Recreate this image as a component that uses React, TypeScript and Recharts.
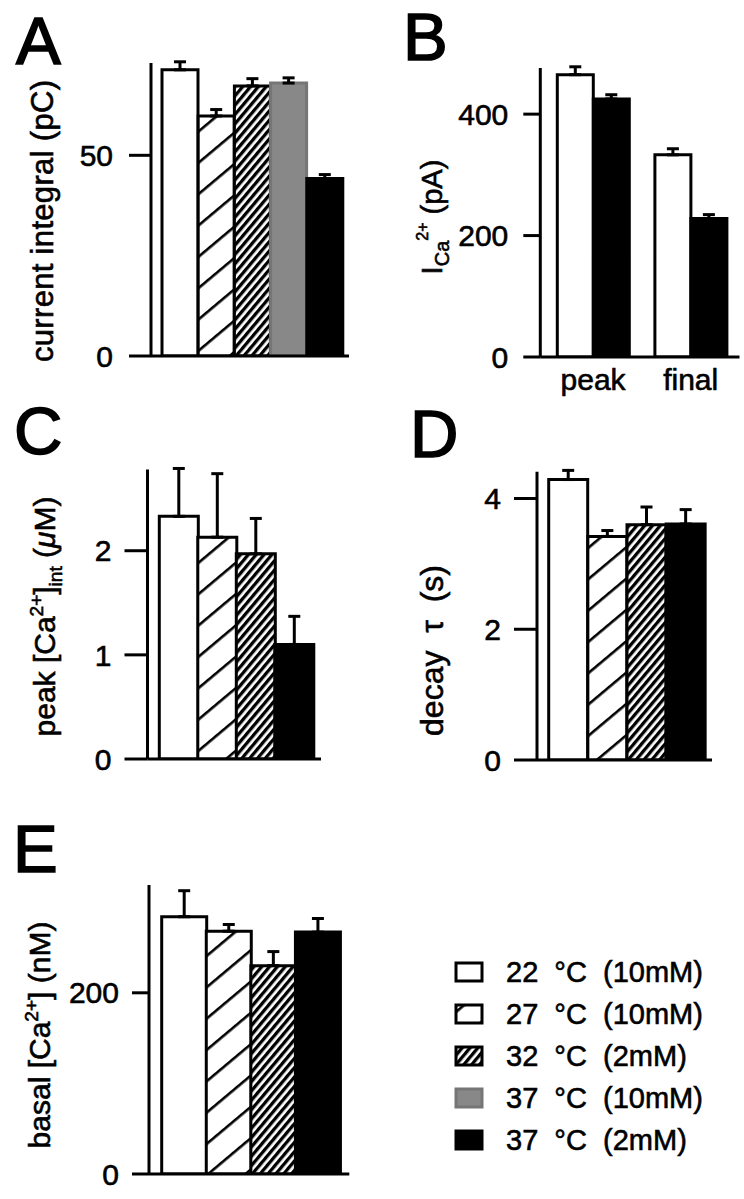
import React from "react";
import { Bar, BarChart, Cell, ErrorBar, Label, XAxis, YAxis } from "recharts";

const FONT = '"Liberation Sans", Arial, Helvetica, sans-serif';

// groups as in the legend
const CONDITIONS = ["22 °C (10mM)", "27 °C (10mM)", "32 °C (2mM)", "37 °C (10mM)", "37 °C (2mM)"];
const FILL_KEYS = ["open", "sparse", "dense", "gray", "solid"];

// A: current integral (pC)
const A_GROUPS = [0, 1, 2, 3, 4];
const A_VALUES = [71.3, 59.8, 67.3, 68.0, 44.2];
const A_ERR = [2.0, 1.6, 1.8, 1.3, 1.0];
const A_TICKS = [0, 50];

// B: I_Ca (pA), peak and final
const B_CATEGORIES = ["peak", "final"];
const B_22 = [465, 333];
const B_22_ERR = [13, 10];
const B_37 = [425, 228];
const B_37_ERR = [7, 6.5];
const B_TICKS = [0, 200, 400];

// C, D, E have no 37 °C (10mM) group
const CDE_GROUPS = [0, 1, 2, 4];
const C_VALUES = [2.33, 2.13, 1.97, 1.1];
const C_ERR = [0.46, 0.61, 0.34, 0.27];
const C_TICKS = [0, 1, 2];

const D_VALUES = [4.29, 3.42, 3.6, 3.61];
const D_ERR = [0.14, 0.09, 0.27, 0.22];
const D_TICKS = [0, 2, 4];

const E_VALUES = [284, 268, 230, 267];
const E_ERR = [28.7, 7.4, 15.5, 15];
const E_TICKS = [0, 200];

const FILLS: Record<string, { fill: string; stroke: string }> = {
  open: { fill: "#ffffff", stroke: "#000" },
  sparse: { fill: "url(#hatchSparse)", stroke: "#000" },
  dense: { fill: "url(#hatchDense)", stroke: "#000" },
  gray: { fill: "#888888", stroke: "#767676" },
  solid: { fill: "#000", stroke: "#000" },
};

// scanned lettering is a bit heavier than plain Arial
const INK = { stroke: "#000", strokeWidth: 0.6 };
const AXIS_LINE = { stroke: "#000", strokeWidth: 3 };
const TICK_STYLE = { fontSize: 30, fill: "#000", fontFamily: FONT, ...INK };

function RotText({
  x,
  y,
  size = 30,
  length,
  children,
}: {
  x: number;
  y: number;
  size?: number;
  length?: number;
  children: React.ReactNode;
}) {
  return (
    <text
      x={x}
      y={y}
      transform={`rotate(-90 ${x} ${y})`}
      textAnchor="middle"
      fontFamily={FONT}
      fontSize={size}
      fill="#000"
      {...INK}
      {...(length ? { textLength: length, lengthAdjust: "spacing" } : {})}
    >
      {children}
    </text>
  );
}

type PanelProps = {
  left: number;
  top: number;
  width: number;
  height: number;
  margin: { top: number; right: number; bottom: number; left: number };
  yWidth: number;
  domain: [number, number];
  ticks: number[];
  tickSize: number;
  tickMargin: number;
  padding: { left: number; right: number };
  groups: number[];
  values: number[];
  errs: number[];
  label: React.ReactNode;
};

function GroupPanel(p: PanelProps) {
  const data = p.groups.map((g, i) => ({
    name: CONDITIONS[g],
    fillKey: FILL_KEYS[g],
    value: p.values[i],
    err: [0, p.errs[i]],
  }));
  return (
    <div style={{ position: "absolute", left: p.left, top: p.top }}>
      <BarChart width={p.width} height={p.height} data={data} margin={p.margin} barCategoryGap={0}>
        <XAxis
          dataKey="name"
          tick={false}
          tickLine={false}
          axisLine={AXIS_LINE}
          height={2}
          padding={p.padding}
        />
        <YAxis
          width={p.yWidth}
          domain={p.domain}
          ticks={p.ticks}
          interval={0}
          allowDataOverflow
          tickSize={p.tickSize}
          tickMargin={p.tickMargin}
          axisLine={AXIS_LINE}
          tickLine={AXIS_LINE}
          tick={TICK_STYLE}
        >
          <Label content={() => p.label} />
        </YAxis>
        <Bar dataKey="value" isAnimationActive={false} strokeWidth={3}>
          {data.map((d) => (
            <Cell key={d.name} fill={FILLS[d.fillKey].fill} stroke={FILLS[d.fillKey].stroke} />
          ))}
          <ErrorBar dataKey="err" width={6} stroke="#000" strokeWidth={3} direction="y" isAnimationActive={false} />
        </Bar>
      </BarChart>
    </div>
  );
}

function PanelB() {
  const data = B_CATEGORIES.map((c, i) => ({
    name: c,
    v22: B_22[i],
    e22: [0, B_22_ERR[i]],
    v37: B_37[i],
    e37: [0, B_37_ERR[i]],
  }));
  return (
    <div style={{ position: "absolute", left: 372, top: 0 }}>
      <BarChart
        width={372}
        height={420}
        data={data}
        margin={{ top: 68, right: 4.5, bottom: 23, left: 0 }}
        barCategoryGap={13}
        barGap={0}
      >
        <XAxis
          dataKey="name"
          tickLine={false}
          tickSize={0}
          tickMargin={12}
          axisLine={AXIS_LINE}
          height={40}
          padding={{ left: 4, right: 0 }}
          tick={TICK_STYLE}
        />
        <YAxis
          width={168.3}
          domain={[0, 476]}
          ticks={B_TICKS}
          interval={0}
          allowDataOverflow
          tickSize={17}
          tickMargin={15}
          axisLine={AXIS_LINE}
          tickLine={AXIS_LINE}
          tick={TICK_STYLE}
        >
          <Label
            content={() => (
              <RotText x={70} y={217} size={29}>
                I
                <tspan fontSize={20} dy={7}>Ca</tspan>
                <tspan fontSize={16} dy={-21}>2+</tspan>
                <tspan dy={14}> (pA)</tspan>
              </RotText>
            )}
          />
        </YAxis>
        <Bar dataKey="v22" fill="#fff" stroke="#000" strokeWidth={3} isAnimationActive={false}>
          <ErrorBar dataKey="e22" width={6} stroke="#000" strokeWidth={3} direction="y" isAnimationActive={false} />
        </Bar>
        <Bar dataKey="v37" fill="#000" stroke="#000" strokeWidth={3} isAnimationActive={false}>
          <ErrorBar dataKey="e37" width={6} stroke="#000" strokeWidth={3} direction="y" isAnimationActive={false} />
        </Bar>
      </BarChart>
    </div>
  );
}

const PANEL_LETTERS = [
  { t: "A", x: 16, y: 64 },
  { t: "B", x: 403, y: 60 },
  { t: "C", x: 14, y: 454 },
  { t: "D", x: 410, y: 457 },
  { t: "E", x: 13, y: 872 },
];

export default function App() {
  return (
    <div
      style={{
        position: "absolute",
        left: 0,
        top: 0,
        width: 744,
        height: 1199,
        background: "#fff",
        overflow: "hidden",
      }}
    >
      <svg width={744} height={1199} style={{ position: "absolute", left: 0, top: 0 }}>
        <defs>
          <pattern id="hatchSparse" patternUnits="userSpaceOnUse" width={24} height={24} patternTransform="rotate(-40)">
            <rect width={24} height={24} fill="#fff" />
            <rect y={11} width={24} height={2.6} fill="#000" />
          </pattern>
          <pattern id="hatchDense" patternUnits="userSpaceOnUse" width={6} height={6} patternTransform="rotate(-50)">
            <rect width={6} height={6} fill="#fff" />
            <rect y={0} width={6} height={3.3} fill="#000" />
          </pattern>
        </defs>
        {PANEL_LETTERS.map((l) => (
          <text key={l.t} x={l.x} y={l.y} fontFamily={FONT} fontSize={67} fill="#000" stroke="#000" strokeWidth={1.6}>
            {l.t}
          </text>
        ))}
        {CONDITIONS.map((c, i) => {
          const cy = 972 + i * 42;
          const f = FILLS[FILL_KEYS[i]];
          return (
            <g key={c}>
              <rect x={456} y={cy - 9} width={26} height={18} fill={f.fill} stroke={f.stroke} strokeWidth={3} />
              <text x={506} y={cy + 10} fontFamily={FONT} fontSize={29} fill="#000" {...INK}>
                {c.replace(/ /g, "\u00a0\u00a0")}
              </text>
            </g>
          );
        })}
      </svg>

      <GroupPanel
        left={0}
        top={0}
        width={360}
        height={420}
        margin={{ top: 63, right: 11, bottom: 62, left: 0 }}
        yWidth={151}
        domain={[0, 73]}
        ticks={A_TICKS}
        tickSize={22}
        tickMargin={16}
        padding={{ left: 11, right: 6 }}
        groups={A_GROUPS}
        values={A_VALUES}
        errs={A_ERR}
        label={
          <RotText x={52.5} y={221} size={31} length={282}>
            current integral (pC)
          </RotText>
        }
      />
      <PanelB />
      <GroupPanel
        left={0}
        top={400}
        width={360}
        height={400}
        margin={{ top: 69.5, right: 39, bottom: 39, left: 0 }}
        yWidth={147.5}
        domain={[0, 2.78]}
        ticks={C_TICKS}
        tickSize={23}
        tickMargin={13}
        padding={{ left: 11.8, right: 7.7 }}
        groups={CDE_GROUPS}
        values={C_VALUES}
        errs={C_ERR}
        label={
          <RotText x={55} y={216.5} size={30}>
            peak [Ca
            <tspan fontSize={19} dy={-12}>2+</tspan>
            <tspan dy={12}>]</tspan>
            <tspan fontSize={19} dy={7}>int</tspan>
            <tspan dy={-7}> (</tspan>
            <tspan fontStyle="italic">μ</tspan>M)
          </RotText>
        }
      />
      <GroupPanel
        left={372}
        top={400}
        width={372}
        height={400}
        margin={{ top: 71.7, right: 32, bottom: 38, left: 0 }}
        yWidth={165}
        domain={[0, 4.41]}
        ticks={D_TICKS}
        tickSize={23}
        tickMargin={13}
        padding={{ left: 11.7, right: 6.7 }}
        groups={CDE_GROUPS}
        values={D_VALUES}
        errs={D_ERR}
        label={
          <RotText x={71} y={250.5} size={32}>
            {"decay\u00a0\u00a0τ\u00a0\u00a0(s)"}
          </RotText>
        }
      />
      <GroupPanel
        left={0}
        top={800}
        width={360}
        height={399}
        margin={{ top: 85, right: 10.7, bottom: 23, left: 0 }}
        yWidth={149}
        domain={[0, 319]}
        ticks={E_TICKS}
        tickSize={17}
        tickMargin={13}
        padding={{ left: 12.7, right: 9.3 }}
        groups={CDE_GROUPS}
        values={E_VALUES}
        errs={E_ERR}
        label={
          <RotText x={50} y={235} size={30}>
            basal [Ca
            <tspan fontSize={19} dy={-12}>2+</tspan>
            <tspan dy={12}>] (nM)</tspan>
          </RotText>
        }
      />
    </div>
  );
}
